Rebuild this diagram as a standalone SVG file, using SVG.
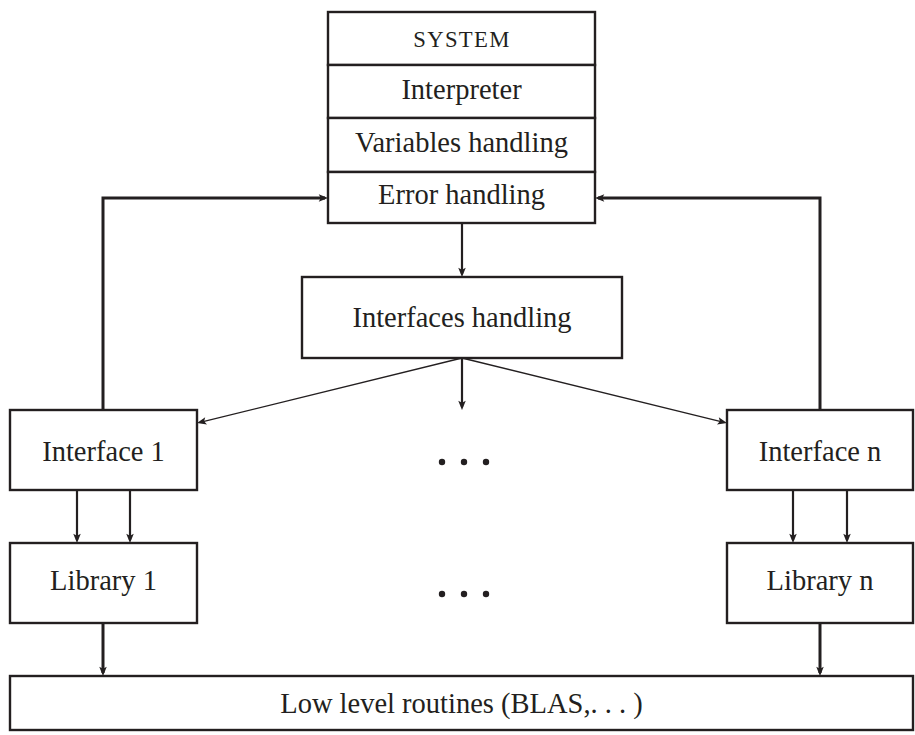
<svg xmlns="http://www.w3.org/2000/svg" width="915" height="735" viewBox="0 0 915 735">
  <style>
    .box { fill: #ffffff; stroke: #231f20; stroke-width: 2.4; }
    .lbl { font-family: "Liberation Serif", "Times New Roman", serif; font-size: 28.5px; fill: #231f20; text-anchor: middle; }
    .sc { font-size: 22.7px; letter-spacing: 1.3px; }
    .thick { fill: none; stroke: #231f20; stroke-width: 3; }
    .mid { fill: none; stroke: #231f20; stroke-width: 2.2; }
    .thin { fill: none; stroke: #231f20; stroke-width: 1.3; }
    .dot { fill: #231f20; }
  </style>
  <defs>
    <marker id="arr" viewBox="0 0 10 8" refX="6.7" refY="4" markerWidth="10" markerHeight="7.5" markerUnits="userSpaceOnUse" orient="auto">
      <path d="M0,0 L10,4 L0,8 L2.2,4 z" fill="#231f20"/>
    </marker>
  </defs>

  <rect width="915" height="735" fill="#ffffff"/>

  <!-- connectors -->
  <g id="connectors">
    <!-- feedback from interfaces to error handling -->
    <polyline class="thick" points="103,410 103,198 325,198" marker-end="url(#arr)"/>
    <polyline class="thick" points="820,410 820,198 598,198" marker-end="url(#arr)"/>
    <!-- system to interfaces handling -->
    <line class="mid" x1="462" y1="223" x2="462" y2="274" marker-end="url(#arr)"/>
    <!-- interfaces handling fan-out -->
    <line class="thin" x1="462" y1="358" x2="200" y2="422.3" marker-end="url(#arr)"/>
    <line class="mid" x1="462" y1="358" x2="462" y2="407" marker-end="url(#arr)"/>
    <line class="thin" x1="462" y1="358" x2="724" y2="422.3" marker-end="url(#arr)"/>
    <!-- interfaces to libraries -->
    <line class="mid" x1="77" y1="490" x2="77" y2="540" marker-end="url(#arr)"/>
    <line class="mid" x1="130" y1="490" x2="130" y2="540" marker-end="url(#arr)"/>
    <line class="mid" x1="793" y1="490" x2="793" y2="540" marker-end="url(#arr)"/>
    <line class="mid" x1="847" y1="490" x2="847" y2="540" marker-end="url(#arr)"/>
    <!-- libraries to low level routines -->
    <line class="thick" x1="103" y1="623" x2="103" y2="673" marker-end="url(#arr)"/>
    <line class="thick" x1="820" y1="623" x2="820" y2="673" marker-end="url(#arr)"/>
  </g>

  <!-- system stack -->
  <g id="system">
    <rect class="box" x="328" y="12" width="267" height="53"/>
    <text class="lbl sc" x="462" y="47">SYSTEM</text>
  </g>
  <g id="interpreter">
    <rect class="box" x="328" y="65" width="267" height="53"/>
    <text class="lbl" x="461.5" y="99">Interpreter</text>
  </g>
  <g id="variables">
    <rect class="box" x="328" y="118" width="267" height="54"/>
    <text class="lbl" x="461.5" y="152">Variables handling</text>
  </g>
  <g id="errors">
    <rect class="box" x="328" y="172" width="267" height="51"/>
    <text class="lbl" x="461.5" y="204">Error handling</text>
  </g>

  <g id="interfaces-handling">
    <rect class="box" x="302" y="277" width="320" height="81"/>
    <text class="lbl" x="462" y="327">Interfaces handling</text>
  </g>

  <g id="interface-1">
    <rect class="box" x="10" y="410" width="187" height="80"/>
    <text class="lbl" x="103.5" y="461">Interface 1</text>
  </g>
  <g id="interface-n">
    <rect class="box" x="727" y="410" width="186" height="80"/>
    <text class="lbl" x="820" y="461">Interface n</text>
  </g>

  <g id="library-1">
    <rect class="box" x="10" y="543" width="187" height="80"/>
    <text class="lbl" x="103.5" y="590">Library 1</text>
  </g>
  <g id="library-n">
    <rect class="box" x="727" y="543" width="186" height="80"/>
    <text class="lbl" x="820" y="590">Library n</text>
  </g>

  <g id="low-level">
    <rect class="box" x="10" y="676" width="903" height="54"/>
    <text class="lbl" x="461.5" y="713">Low level routines (BLAS,. . . )</text>
  </g>

  <!-- ellipses between the first and last columns -->
  <g id="ellipsis-interfaces">
    <circle class="dot" cx="442" cy="462" r="3.2"/>
    <circle class="dot" cx="464" cy="462" r="3.2"/>
    <circle class="dot" cx="486" cy="462" r="3.2"/>
  </g>
  <g id="ellipsis-libraries">
    <circle class="dot" cx="442" cy="594" r="3.2"/>
    <circle class="dot" cx="464" cy="594" r="3.2"/>
    <circle class="dot" cx="486" cy="594" r="3.2"/>
  </g>
</svg>
